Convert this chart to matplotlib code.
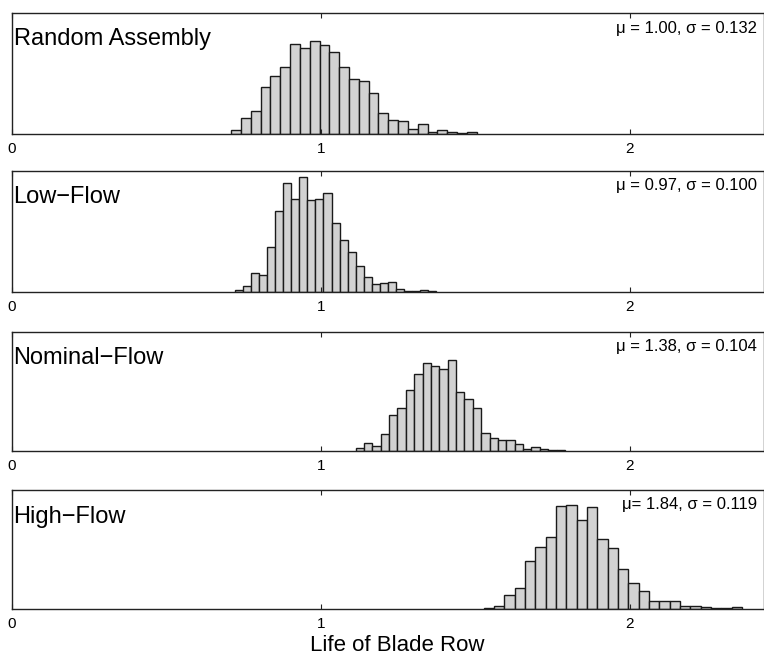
import matplotlib.pyplot as plt
import numpy as np

plt.rcParams['font.family'] = ['Liberation Sans', 'DejaVu Sans']

# histogram data (bin start, bin width, bar heights)
names = ['Random Assembly', 'Low\u2212Flow', 'Nominal\u2212Flow', 'High\u2212Flow']
stats = ['\u03bc = 1.00, \u03c3 = 0.132', '\u03bc = 0.97, \u03c3 = 0.100',
         '\u03bc = 1.38, \u03c3 = 0.104', '\u03bc= 1.84, \u03c3 = 0.119']
bin_start = [0.709, 0.722, 1.112, 1.527]
bin_width = [0.0318, 0.0260, 0.0271, 0.0334]

random_counts = [13, 48, 70, 140, 175, 202, 270, 257, 278, 266, 246, 201, 165,
                 159, 124, 62, 42, 40, 14, 29, 7, 11, 5, 2, 7]
low_counts = [7, 17, 56, 50, 136, 242, 328, 280, 344, 277, 280, 296, 206,
              155, 121, 78, 46, 23, 26, 29, 9, 4, 4, 5, 4]
nominal_counts = [9, 24, 14, 52, 107, 130, 184, 231, 263, 254, 246, 273, 178,
                  156, 130, 54, 39, 32, 32, 20, 6, 12, 7, 4, 2]
high_counts = [3, 8, 43, 64, 143, 186, 216, 308, 313, 268, 306, 209, 183,
               120, 78, 55, 25, 25, 25, 10, 8, 6, 2, 2, 5]
counts = [random_counts, low_counts, nominal_counts, high_counts]

fig = plt.figure(figsize=(7.64, 6.56), dpi=100)

# axes boxes in pixels: (top, bottom)
boxes = [(13, 134), (171, 292), (332, 451), (490, 609)]
W, H = 764., 656.
left_px = 12
xmax = (W - left_px) / 309.

for i in range(4):
    top, bot = boxes[i]
    ax = fig.add_axes([left_px / W, (H - bot) / H, 1 - left_px / W, (bot - top) / H])
    c = np.array(counts[i])
    edges = bin_start[i] + bin_width[i] * np.arange(len(c))
    ax.bar(edges, c, width=bin_width[i], align='edge',
           facecolor='#d2d2d2', edgecolor='#1a1a1a', linewidth=1.0)
    ax.set_xlim(0, xmax)
    ax.set_ylim(0, (bot - top) * 3)
    ax.set_yticks([])
    ax.set_xticks([0, 1, 2])
    ax.tick_params(axis='x', direction='in', top=True, length=3.5,
                   labelsize=11, pad=6, color='#222222')
    for s in ax.spines.values():
        s.set_linewidth(1.0)
        s.set_color('#222222')
    off = 32.5 / (bot - top)
    ax.text(0.002, 1 - off, names[i], transform=ax.transAxes,
            fontsize=17, va='baseline', ha='left')
    ax.text(0.991, 1 - 19.5 / (bot - top), stats[i], transform=ax.transAxes,
            fontsize=12, va='baseline', ha='right')

fig.text(397 / W, 1 - 651 / H, 'Life of Blade Row', fontsize=16,
         ha='center', va='baseline')

fig.savefig('out.png', dpi=100)
